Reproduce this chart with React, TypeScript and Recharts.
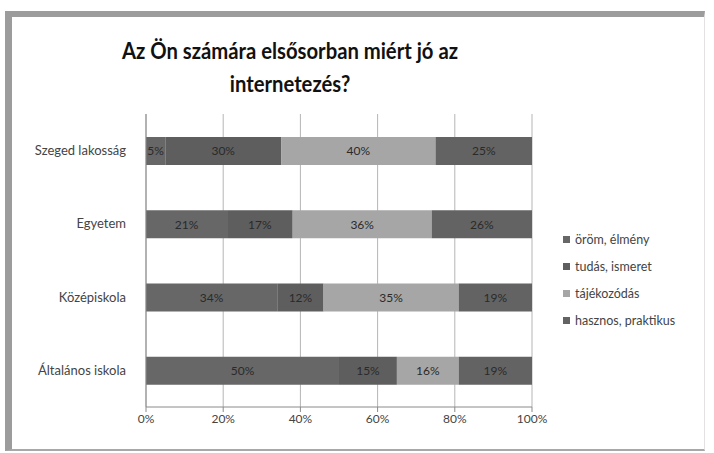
import { BarChart, Bar, XAxis, YAxis, CartesianGrid, LabelList } from "recharts";

const categories = ["Szeged lakosság", "Egyetem", "Középiskola", "Általános iskola"];
const orom = [5, 21, 34, 50];
const tudas = [30, 17, 12, 15];
const tajekozodas = [40, 36, 35, 16];
const hasznos = [25, 26, 19, 19];
const ticks = [0, 20, 40, 60, 80, 100];

const series = [
  { key: "orom", name: "öröm, élmény", color: "#676767" },
  { key: "tudas", name: "tudás, ismeret", color: "#5e5e5e" },
  { key: "tajekozodas", name: "tájékozódás", color: "#a6a6a6" },
  { key: "hasznos", name: "hasznos, praktikus", color: "#636363" },
];

const data = categories.map((c, i) => ({
  category: c,
  orom: orom[i],
  tudas: tudas[i],
  tajekozodas: tajekozodas[i],
  hasznos: hasznos[i],
}));

const font = "Lato, 'Open Sans', sans-serif";

export default function App() {
  return (
    <div style={{ position: "fixed", left: 0, top: 0, width: 714, height: 453, background: "#fff", fontFamily: font }}>
      <div
        style={{
          position: "absolute",
          left: 5,
          top: 11,
          width: 692,
          height: 432,
          borderTop: "6px solid #9c9c9c",
          borderLeft: "7px solid #9c9c9c",
          borderRight: "1px solid #e2e2e2",
          borderBottom: "2px solid #a8a8a8",
        }}
      />
      <div
        style={{
          position: "absolute",
          left: 90,
          top: 34,
          width: 400,
          textAlign: "center",
          fontWeight: 700,
          fontSize: 22.5,
          lineHeight: "33px",
          color: "#111",
          transform: "scaleX(0.9)",
        }}
      >
        Az Ön számára elsősorban miért jó az
        <br />
        internetezés?
      </div>
      <div style={{ position: "absolute", left: 0, top: 0 }}>
        <BarChart
          width={714}
          height={453}
          data={data}
          layout="vertical"
          margin={{ top: 114, right: 182, bottom: 16, left: 6 }}
          barSize={28}
        >
          <CartesianGrid horizontal={false} stroke="#b5b5b5" />
          <XAxis
            type="number"
            domain={[0, 100]}
            ticks={ticks}
            tickFormatter={(v) => `${v}%`}
            axisLine={{ stroke: "#8a8a8a" }}
            tickLine={{ stroke: "#8a8a8a" }}
            tickSize={5}
            tick={{ fill: "#444", fontSize: 12, fontFamily: font }}
            height={30}
            interval={0}
          />
          <YAxis
            type="category"
            dataKey="category"
            width={140}
            axisLine={{ stroke: "#8a8a8a" }}
            tickLine={false}
            tick={{ fill: "#444", fontSize: 13, fontFamily: font }}
            tickMargin={14}
          />
          {series.map((s) => (
            <Bar key={s.key} dataKey={s.key} name={s.name} stackId="a" fill={s.color} isAnimationActive={false}>
              <LabelList
                dataKey={s.key}
                position="center"
                formatter={(v: any) => `${v}%`}
                fill="#2a2a2a"
                fontSize={12}
                fontFamily={font}
              />
            </Bar>
          ))}
        </BarChart>
      </div>
      <div style={{ position: "absolute", left: 563, top: 226 }}>
        {series.map((s) => (
          <div
            key={s.key}
            style={{ display: "flex", alignItems: "center", height: 27, fontSize: 12.5, color: "#444" }}
          >
            <span style={{ width: 7, height: 7, background: s.color, marginRight: 5, display: "inline-block" }} />
            {s.name}
          </div>
        ))}
      </div>
    </div>
  );
}
